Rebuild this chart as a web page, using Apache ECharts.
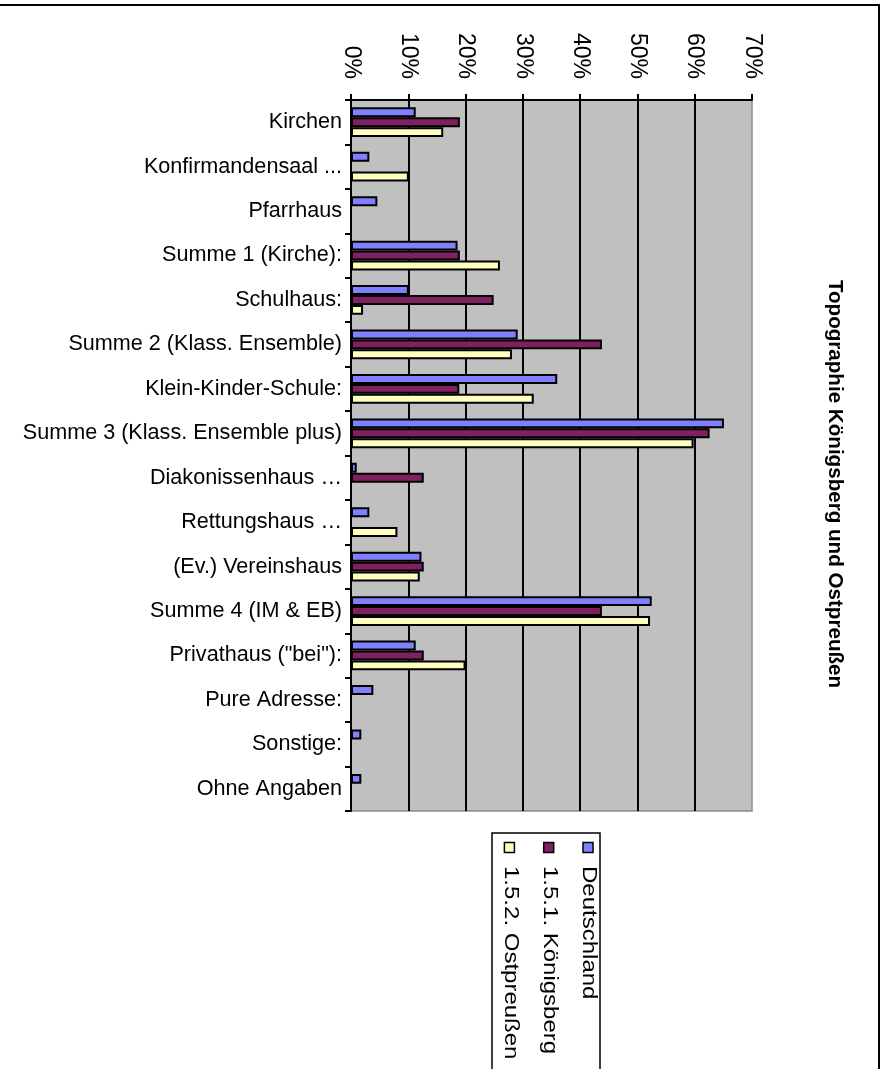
<!DOCTYPE html>
<html>
<head>
<meta charset="utf-8">
<title>Topographie Königsberg und Ostpreußen</title>
<script src="https://cdn.jsdelivr.net/npm/echarts/dist/echarts.min.js"></script>
<style>
  html, body { margin: 0; padding: 0; background: #fff; }
  #chart { width: 883px; height: 1069px; }
</style>
</head>
<body>
<div id="chart"></div>
<script>
// Categories (top to bottom)
const categories = [
  'Kirchen',
  'Konfirmandensaal ...',
  'Pfarrhaus',
  'Summe 1 (Kirche):',
  'Schulhaus:',
  'Summe 2 (Klass. Ensemble)',
  'Klein-Kinder-Schule:',
  'Summe 3 (Klass. Ensemble plus)',
  'Diakonissenhaus …',
  'Rettungshaus …',
  '(Ev.) Vereinshaus',
  'Summe 4 (IM & EB)',
  'Privathaus ("bei"):',
  'Pure Adresse:',
  'Sonstige:',
  'Ohne Angaben'
];

const seriesNames = ['Deutschland', '1.5.1. Königsberg', '1.5.2. Ostpreußen'];

// Shares in percent; null = no entry
const deutschland = [11.3, 3.2, 4.6, 18.6, 10.1, 29.1, 36.0, 65.1, 1.0, 3.2, 12.3, 52.5, 11.3, 3.9, 1.8, 1.8];
const koenigsberg = [19.0, null, null, 19.0, 24.9, 43.8, 18.9, 62.6, 12.7, null, 12.7, 43.8, 12.7, null, null, null];
const ostpreussen = [16.1, 10.1, null, 26.0, 2.1, 28.1, 31.9, 59.8, null, 8.1, 12.0, 52.2, 20.0, null, null, null];

const axisMin = 0;
const axisMax = 70;
const axisStep = 10;

const title = 'Topographie Königsberg und Ostpreußen';

const colors = ['#8080ff', '#802060', '#ffffc0'];
const values = [deutschland, koenigsberg, ostpreussen];
const FONT = 'Liberation Sans';

const chart = echarts.init(document.getElementById('chart'), null, { renderer: 'canvas' });

// Legend drawn as a rotated block below the plot
const legendChildren = [{
  type: 'rect',
  shape: { x: 492, y: 833, width: 108, height: 300 },
  style: { fill: '#fff', stroke: '#000', lineWidth: 1.5 }
}];
seriesNames.forEach((name, i) => {
  const cx = 588 - 39.3 * i;
  legendChildren.push({
    type: 'rect',
    shape: { x: cx - 5, y: 842.5, width: 10, height: 10 },
    style: { fill: colors[i], stroke: '#000', lineWidth: 1.5 }
  });
  legendChildren.push({
    type: 'text',
    x: cx + 1,
    y: 866,
    rotation: -Math.PI / 2,
    scaleX: 1.2,
    style: {
      text: name,
      fontSize: 20,
      fontFamily: FONT,
      fill: '#000',
      align: 'left',
      verticalAlign: 'middle'
    }
  });
});

const option = {
  animation: false,
  backgroundColor: '#fff',
  grid: {
    left: 351,
    right: 131,
    top: 100,
    bottom: 258,
    show: true,
    backgroundColor: '#c0c0c0',
    borderColor: '#8a8a8a',
    borderWidth: 1.5
  },
  xAxis: {
    type: 'value',
    position: 'top',
    min: axisMin,
    max: axisMax,
    interval: axisStep,
    axisLine: { show: true, lineStyle: { color: '#000', width: 2 } },
    axisTick: { show: true, length: 6, lineStyle: { color: '#000', width: 2 } },
    axisLabel: {
      rotate: 90,
      margin: 21,
      fontSize: 23,
      fontFamily: FONT,
      color: '#000',
      formatter: v => v + '%'
    },
    splitLine: {
      show: true,
      showMinLine: false,
      showMaxLine: false,
      lineStyle: { color: '#000', width: 2 }
    }
  },
  yAxis: {
    type: 'category',
    data: categories,
    inverse: true,
    axisLine: { show: true, lineStyle: { color: '#000', width: 2 } },
    axisTick: { show: true, length: 6, lineStyle: { color: '#000', width: 2 } },
    axisLabel: {
      margin: 9,
      fontSize: 21.6,
      fontFamily: FONT,
      color: '#000'
    },
    splitLine: { show: false }
  },
  series: seriesNames.map((name, i) => ({
    name: name,
    type: 'bar',
    data: values[i],
    barGap: '0%',
    barCategoryGap: '33%',
    itemStyle: { color: colors[i], borderColor: '#000', borderWidth: 2 }
  })),
  graphic: [
    {
      type: 'line',
      shape: { x1: 0, y1: 5, x2: 880, y2: 5 },
      style: { stroke: '#000', lineWidth: 2 }
    },
    {
      type: 'line',
      shape: { x1: 879, y1: 5, x2: 879, y2: 1069 },
      style: { stroke: '#000', lineWidth: 2 }
    },
    {
      type: 'text',
      x: 835,
      y: 484,
      rotation: -Math.PI / 2,
      scaleX: 1.03,
      style: {
        text: title,
        fontSize: 20,
        fontWeight: 'bold',
        fontFamily: FONT,
        fill: '#000',
        align: 'center',
        verticalAlign: 'middle'
      }
    },
    { type: 'group', children: legendChildren }
  ]
};

chart.setOption(option);
</script>
</body>
</html>
